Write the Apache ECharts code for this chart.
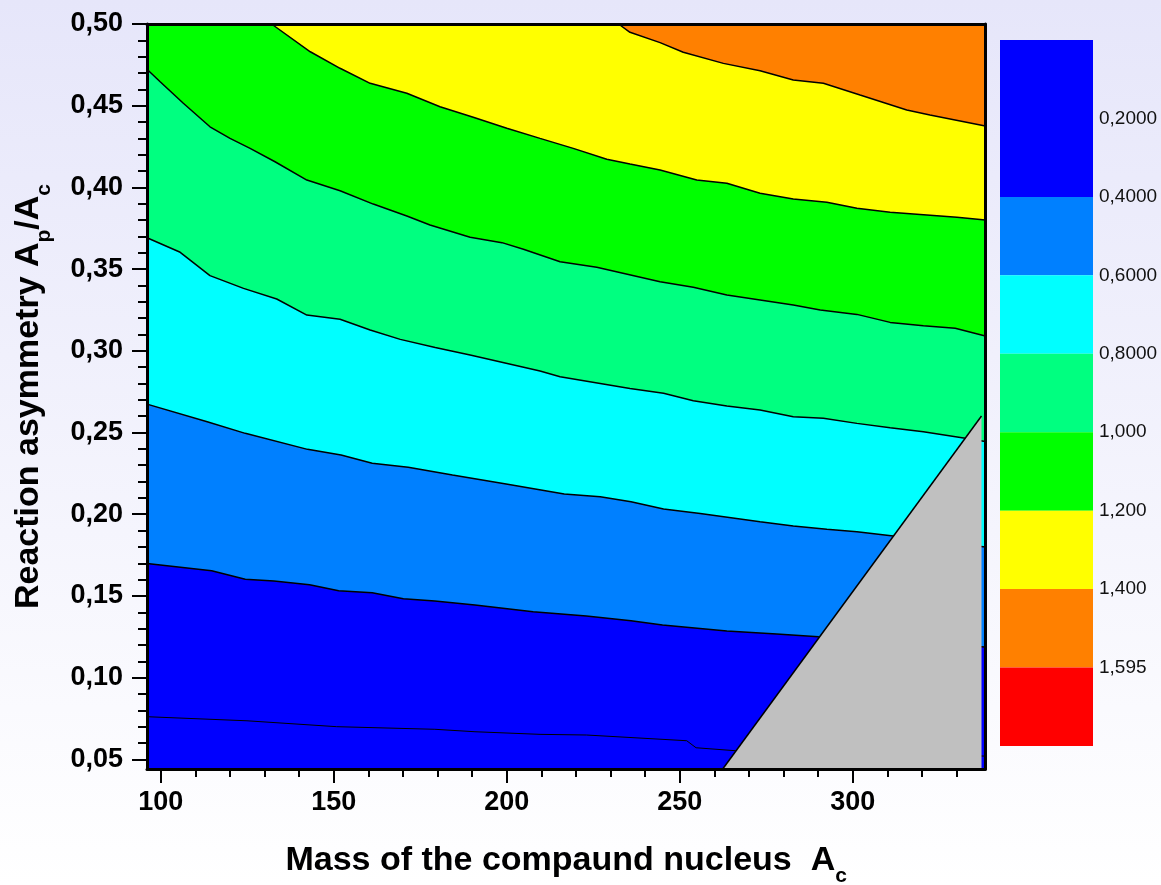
<!DOCTYPE html>
<html><head><meta charset="utf-8">
<script src="https://cdn.jsdelivr.net/npm/echarts@6/dist/echarts.min.js"></script>
<style>html,body{margin:0;padding:0;background:#fff;}#c{width:1161px;height:885px;}</style>
</head><body><div id="c"></div>
<script>
// ---- axis ranges & ticks ----
const xMin = 96, xMax = 338.3, yMin = 0.0441, yMax = 0.5;
const xMajorTicks = [100, 150, 200, 250, 300];
const xMinorTicks = [110, 120, 130, 140, 160, 170, 180, 190, 210, 220, 230, 240, 260, 270, 280, 290, 310, 320, 330];
const yMajorTicks = [0.05, 0.10, 0.15, 0.20, 0.25, 0.30, 0.35, 0.40, 0.45, 0.50];
const yMinorTicks = [0.06, 0.07, 0.08, 0.09, 0.11, 0.12, 0.13, 0.14, 0.16, 0.17, 0.18, 0.19, 0.21, 0.22, 0.23, 0.24,
  0.26, 0.27, 0.28, 0.29, 0.31, 0.32, 0.33, 0.34, 0.36, 0.37, 0.38, 0.39, 0.41, 0.42, 0.43, 0.44, 0.46, 0.47, 0.48, 0.49];

// ---- contour levels & colours ----
const levelLabels = ['0,2000', '0,4000', '0,6000', '0,8000', '1,000', '1,200', '1,400', '1,595'];
const legendBlocks = [2, 1, 1, 1, 1, 1, 1, 1];
const legendColors = ['#0000ff', '#0080ff', '#00ffff', '#00ff80', '#00ff00', '#ffff00', '#ff8000', '#ff0000'];
const belowColor = '#0000ff';
const aboveColors = ['#0000ff', '#0080ff', '#00ffff', '#00ff80', '#00ff00', '#ffff00', '#ff8000'];
const excludedColor = '#c0c0c0';

// ---- contour lines [A_c, A_p/A_c] ----
const c02 = [[96,0.0761],[124.9,0.0736],[150.8,0.0700],[179.2,0.0684],[190.8,0.0669],[209.6,0.0653],[223.0,0.0649],
  [252.0,0.0614],[254.7,0.0571],[266.0,0.0553],[338.3,0.0520]];
const c04 = [[96,0.1699],[114.7,0.1654],[124.4,0.1602],[132.7,0.1591],[143.0,0.1569],[151.4,0.1532],[161.1,0.1520],
  [170.1,0.1483],[179.2,0.1469],[190.8,0.1444],[207.6,0.1403],[223.0,0.1377],[235.9,0.1348],[245.0,0.1322],
  [263.6,0.1285],[278.0,0.1267],[290.1,0.1250],[338.3,0.1187]];
const c06 = [[96,0.2674],[113.4,0.2566],[124.4,0.2495],[142.4,0.2397],[152.1,0.2362],[161.1,0.2312],[171.5,0.2287],
  [184.3,0.2240],[199.8,0.2185],[216.6,0.2124],[227.0,0.2107],[235.9,0.2077],[245.3,0.2032],[255.9,0.2005],
  [273.2,0.1954],[282.8,0.1928],[292.5,0.1908],[301.2,0.1893],[311.7,0.1867],[338.3,0.1799]];
const c08 = [[96,0.3692],[105.6,0.3603],[114.2,0.3460],[123.9,0.3382],[133.5,0.3317],[142.2,0.3219],[151.8,0.3193],
  [160.5,0.3127],[169.2,0.3070],[179.3,0.3020],[189.4,0.2974],[199.5,0.2925],[209.6,0.2876],[215.4,0.2841],
  [235.6,0.2770],[245.3,0.2740],[253.9,0.2695],[263.6,0.2662],[273.2,0.2638],[282.8,0.2597],[291.5,0.2587],
  [301.2,0.2556],[310.8,0.2529],[320.4,0.2505],[332.5,0.2465],[338.3,0.2445]];
const c10 = [[96,0.4723],[99.8,0.4647],[106.5,0.4515],[114.2,0.4371],[120.0,0.4300],[125.8,0.4239],[133.0,0.4157],
  [142.2,0.4045],[151.8,0.3980],[161.4,0.3898],[171.1,0.3825],[177.8,0.3770],[189.4,0.3695],[198.6,0.3662],
  [204.8,0.3622],[215.4,0.3545],[226.0,0.3511],[244.3,0.3423],[253.9,0.3389],[263.6,0.3342],[273.2,0.3311],
  [282.8,0.3280],[290.6,0.3250],[301.2,0.3223],[310.8,0.3174],[320.4,0.3154],[329.6,0.3138],[338.3,0.3091]];
const c12 = [[132.0,0.5],[143.2,0.4830],[151.8,0.4729],[160.5,0.4637],[171.1,0.4576],[180.7,0.4494],[190.3,0.4429],
  [200.0,0.4362],[209.6,0.4300],[219.2,0.4239],[228.9,0.4172],[235.6,0.4143],[244.3,0.4106],[254.9,0.4045],
  [263.6,0.4025],[273.2,0.3964],[282.8,0.3929],[292.5,0.3909],[301.2,0.3872],[310.8,0.3848],[321.4,0.3831],
  [330.1,0.3817],[338.3,0.3801]];
const c14 = [[232.3,0.5],[235.6,0.4949],[244.3,0.4886],[251.0,0.4827],[262.6,0.4759],[273.2,0.4714],[282.8,0.4657],
  [291.5,0.4637],[302.1,0.4565],[315.6,0.4474],[322.3,0.4443],[338.3,0.4376]];
const contours = [c02, c04, c06, c08, c10, c12, c14];
// excluded (grey) region edge
const excludedEdge = [[262.4, 0.0441], [337.2, 0.2601]];

const FONT = 'Liberation Sans, Arial, sans-serif';
const chart = echarts.init(document.getElementById('c'), null, {renderer: 'canvas'});

const series = [];
contours.forEach((c, i) => {
  series.push({
    type: 'line', xAxisIndex: 0, yAxisIndex: 0, data: c, symbol: 'none', smooth: false,
    lineStyle: {color: '#000', width: i === 0 ? 1 : 1.5},
    areaStyle: {color: aboveColors[i], opacity: 1, origin: 'end'},
    silent: true, z: 2 + i * 0.01
  });
});
series.push({
  type: 'line', xAxisIndex: 0, yAxisIndex: 0, data: excludedEdge, symbol: 'none',
  lineStyle: {color: '#000', width: 1.5},
  areaStyle: {color: excludedColor, opacity: 1, origin: 'start'}, silent: true, z: 3
});
legendBlocks.forEach((b, i) => {
  series.push({
    type: 'bar', xAxisIndex: 3, yAxisIndex: 3, stack: 'cb', data: [b], barWidth: '100%',
    itemStyle: {color: legendColors[i]}, silent: true
  });
});

const tickFont = {fontSize: 27, fontWeight: 'bold', color: '#000', fontFamily: FONT};
const nameStyle = {
  fontSize: 34, fontWeight: 'bold', color: '#000', fontFamily: FONT, lineHeight: 52,
  rich: {s: {fontSize: 21, fontWeight: 'bold', color: '#000', fontFamily: FONT, lineHeight: 20, verticalAlign: 'bottom'}}
};

chart.setOption({
  animation: false,
  backgroundColor: {type: 'linear', x: 0, y: 0, x2: 0, y2: 1,
    colorStops: [{offset: 0, color: '#e6e6fa'}, {offset: 1, color: '#ffffff'}]},
  grid: [
    {left: 147, top: 24, width: 838.3, height: 745, show: true, backgroundColor: belowColor, borderWidth: 0,
      containLabel: false, outerBoundsMode: 'none'},
    {left: 1000, top: 40, width: 93, height: 706, containLabel: false, outerBoundsMode: 'none'}
  ],
  xAxis: [
    {type: 'value', min: xMin, max: xMax, position: 'bottom', z: 10,
      axisLine: {show: true, onZero: false, lineStyle: {color: '#000', width: 3}},
      axisTick: {show: true, inside: false, length: 14, customValues: xMajorTicks, lineStyle: {color: '#000', width: 2}},
      axisLabel: Object.assign({customValues: xMajorTicks, margin: 20}, tickFont),
      splitLine: {show: false},
      name: 'Mass of the compaund nucleus  A{s|c}', nameLocation: 'middle', nameGap: 66, nameTextStyle: nameStyle},
    {type: 'value', min: xMin, max: xMax, position: 'top', z: 10,
      axisLine: {show: true, onZero: false, lineStyle: {color: '#000', width: 3}},
      axisTick: {show: false}, axisLabel: {show: false}, splitLine: {show: false}},
    {type: 'value', min: xMin, max: xMax, position: 'bottom', z: 10,
      axisLine: {show: false, onZero: false},
      axisTick: {show: true, length: 8, customValues: xMinorTicks, lineStyle: {color: '#000', width: 2}},
      axisLabel: {show: false}, splitLine: {show: false}},
    {gridIndex: 1, type: 'category', data: [''], show: false}
  ],
  yAxis: [
    {type: 'value', min: yMin, max: yMax, position: 'left', z: 10,
      axisLine: {show: true, onZero: false, lineStyle: {color: '#000', width: 3}},
      axisTick: {show: true, length: 15, customValues: yMajorTicks, lineStyle: {color: '#000', width: 2}},
      axisLabel: Object.assign({customValues: yMajorTicks, margin: 24,
        formatter: v => v.toFixed(2).replace('.', ',')}, tickFont),
      splitLine: {show: false},
      name: 'Reaction asymmetry A{s|p}/A{s|c}', nameLocation: 'middle', nameGap: 92, nameTextStyle: nameStyle},
    {type: 'value', min: yMin, max: yMax, position: 'right', z: 10,
      axisLine: {show: true, onZero: false, lineStyle: {color: '#000', width: 3}},
      axisTick: {show: false}, axisLabel: {show: false}, splitLine: {show: false}},
    {type: 'value', min: yMin, max: yMax, position: 'left', z: 10,
      axisLine: {show: false, onZero: false},
      axisTick: {show: true, length: 9, customValues: yMinorTicks, lineStyle: {color: '#000', width: 2}},
      axisLabel: {show: false}, splitLine: {show: false}},
    {gridIndex: 1, type: 'value', min: 0, max: 9, inverse: true, position: 'right',
      axisLine: {show: false}, axisTick: {show: false}, splitLine: {show: false},
      axisLabel: {customValues: [1, 2, 3, 4, 5, 6, 7, 8], margin: 6, fontSize: 19, color: '#111', fontFamily: FONT,
        formatter: v => levelLabels[Math.round(v) - 1]}}
  ],
  series: series
});
</script></body></html>
